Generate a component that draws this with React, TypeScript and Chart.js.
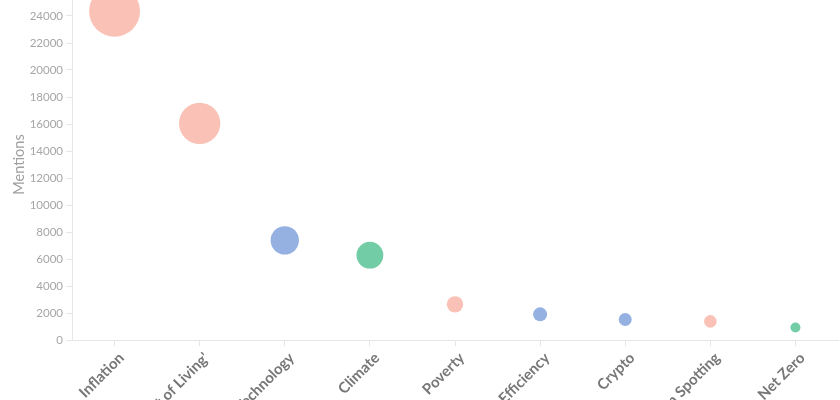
import React, { useEffect, useRef } from "react";
import { Chart, registerables } from "chart.js";

Chart.register(...registerables);

const categories = [
  "Inflation",
  "'Cost of Living'",
  "Technology",
  "Climate",
  "Poverty",
  "Energy Efficiency",
  "Crypto",
  "Pattern Spotting",
  "Net Zero",
];
const mentions = [24350, 16050, 7380, 6280, 2640, 1900, 1520, 1380, 920];
const radii = [25.5, 20.7, 14.2, 13.4, 8.2, 7, 6.5, 6.3, 5];
const colors = [
  "#FAC2B6",
  "#FAC2B6",
  "#95B1E1",
  "#72CDA6",
  "#FAC2B6",
  "#95B1E1",
  "#95B1E1",
  "#FAC2B6",
  "#72CDA6",
];
const yTitle = "Mentions";

export default function App() {
  const ref = useRef<HTMLCanvasElement | null>(null);
  useEffect(() => {
    if (!ref.current) return;
    const chart = new Chart(ref.current, {
      type: "bubble",
      data: {
        labels: categories,
        datasets: [
          {
            label: yTitle,
            data: categories.map((c, i) => ({ x: c, y: mentions[i], r: radii[i] })) as any,
            backgroundColor: colors,
            borderColor: colors,
            borderWidth: 0,
          },
        ],
      },
      options: {
        responsive: false,
        animation: false,
        layout: { autoPadding: false, padding: { top: 19, right: 2, left: 0, bottom: 0 } },
        plugins: { legend: { display: false }, tooltip: { enabled: false } },
        scales: {
          x: {
            type: "category",
            labels: categories,
            offset: true,
            grid: { display: true, drawOnChartArea: false, drawTicks: true, tickLength: 6, color: "#e6e6e6" },
            border: { color: "#e6e6e6" },
            ticks: {
              maxRotation: 45,
              minRotation: 45,
              labelOffset: 7,
              color: "#777777",
              font: { family: "Lato", size: 15, weight: "bold" },
            },
            afterFit: (s: any) => {
              s.height = 130;
              s.paddingLeft = 0;
              s.paddingRight = 0;
            },
          },
          y: {
            min: 0,
            max: 26000,
            grid: { display: true, drawOnChartArea: false, drawTicks: true, tickLength: 6, color: "#e6e6e6" },
            border: { color: "#e6e6e6" },
            ticks: {
              stepSize: 2000,
              color: "#a6a6a6",
              padding: 3,
              font: { family: "Lato", size: 11.5 },
              callback: (v: any) => String(v),
            },
            title: {
              display: true,
              text: yTitle,
              color: "#a0a0a0",
              font: { family: "Lato", size: 14.5 },
              padding: { top: 11, bottom: 4 },
            },
            afterFit: (s: any) => {
              s.width = 72;
            },
          },
        },
      },
    });
    return () => chart.destroy();
  }, []);
  return (
    <canvas
      ref={ref}
      width={840}
      height={500}
      style={{ position: "absolute", left: 0, top: -30, width: 840, height: 500 }}
    />
  );
}
